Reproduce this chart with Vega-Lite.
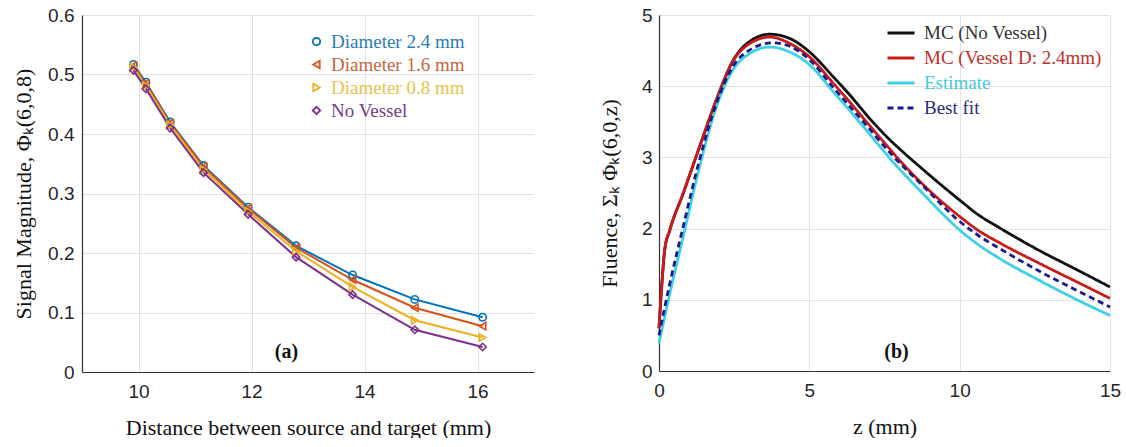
{
  "$schema": "https://vega.github.io/schema/vega-lite/v6.json",
  "padding": {"left": 12, "top": 6, "right": 0, "bottom": 0},
  "spacing": 64,
  "config": {
    "view": {"stroke": null},
    "axis": {
      "labelFont": "Liberation Sans", "labelFontSize": 19, "labelColor": "#262626", "labelFlush": false,
      "titleFont": "Liberation Serif", "titleFontSize": 22, "titleFontWeight": "normal", "titleColor": "#111111",
      "gridColor": "#e2e2e2", "gridWidth": 1, "domainColor": "#333333", "domainWidth": 1.2, "ticks": false
    },
    "legend": {"labelFont": "Liberation Serif", "labelFontSize": 19, "padding": 0, "rowPadding": 3, "labelLimit": 400}
  },
  "datasets": {
    "left": [
      {"series": "Diameter 2.4 mm", "x": 9.91, "y": 0.517},
      {"series": "Diameter 2.4 mm", "x": 10.13, "y": 0.487},
      {"series": "Diameter 2.4 mm", "x": 10.56, "y": 0.42},
      {"series": "Diameter 2.4 mm", "x": 11.15, "y": 0.347},
      {"series": "Diameter 2.4 mm", "x": 11.94, "y": 0.277},
      {"series": "Diameter 2.4 mm", "x": 12.79, "y": 0.212},
      {"series": "Diameter 2.4 mm", "x": 13.79, "y": 0.163},
      {"series": "Diameter 2.4 mm", "x": 14.89, "y": 0.122},
      {"series": "Diameter 2.4 mm", "x": 16.09, "y": 0.092},
      {"series": "Diameter 1.6 mm", "x": 9.91, "y": 0.515},
      {"series": "Diameter 1.6 mm", "x": 10.13, "y": 0.485},
      {"series": "Diameter 1.6 mm", "x": 10.56, "y": 0.418},
      {"series": "Diameter 1.6 mm", "x": 11.15, "y": 0.345},
      {"series": "Diameter 1.6 mm", "x": 11.94, "y": 0.275},
      {"series": "Diameter 1.6 mm", "x": 12.79, "y": 0.209},
      {"series": "Diameter 1.6 mm", "x": 13.79, "y": 0.155},
      {"series": "Diameter 1.6 mm", "x": 14.89, "y": 0.108},
      {"series": "Diameter 1.6 mm", "x": 16.09, "y": 0.077},
      {"series": "Diameter 0.8 mm", "x": 9.91, "y": 0.512},
      {"series": "Diameter 0.8 mm", "x": 10.13, "y": 0.481},
      {"series": "Diameter 0.8 mm", "x": 10.56, "y": 0.415},
      {"series": "Diameter 0.8 mm", "x": 11.15, "y": 0.34},
      {"series": "Diameter 0.8 mm", "x": 11.94, "y": 0.27},
      {"series": "Diameter 0.8 mm", "x": 12.79, "y": 0.203},
      {"series": "Diameter 0.8 mm", "x": 13.79, "y": 0.143},
      {"series": "Diameter 0.8 mm", "x": 14.89, "y": 0.087},
      {"series": "Diameter 0.8 mm", "x": 16.09, "y": 0.058},
      {"series": "No Vessel", "x": 9.91, "y": 0.507},
      {"series": "No Vessel", "x": 10.13, "y": 0.476},
      {"series": "No Vessel", "x": 10.56, "y": 0.41},
      {"series": "No Vessel", "x": 11.15, "y": 0.335},
      {"series": "No Vessel", "x": 11.94, "y": 0.265},
      {"series": "No Vessel", "x": 12.79, "y": 0.193},
      {"series": "No Vessel", "x": 13.79, "y": 0.13},
      {"series": "No Vessel", "x": 14.89, "y": 0.071},
      {"series": "No Vessel", "x": 16.09, "y": 0.042}
    ],
    "right": [
      {"series": "MC (No Vessel)", "z": 0, "f": 0.6},
      {"series": "MC (No Vessel)", "z": 0.1, "f": 1.25},
      {"series": "MC (No Vessel)", "z": 0.19, "f": 1.7},
      {"series": "MC (No Vessel)", "z": 0.36, "f": 1.98},
      {"series": "MC (No Vessel)", "z": 0.8, "f": 2.49},
      {"series": "MC (No Vessel)", "z": 1.35, "f": 3.15},
      {"series": "MC (No Vessel)", "z": 1.91, "f": 3.81},
      {"series": "MC (No Vessel)", "z": 2.46, "f": 4.36},
      {"series": "MC (No Vessel)", "z": 3.02, "f": 4.63},
      {"series": "MC (No Vessel)", "z": 3.68, "f": 4.73},
      {"series": "MC (No Vessel)", "z": 4.35, "f": 4.67},
      {"series": "MC (No Vessel)", "z": 5.01, "f": 4.48},
      {"series": "MC (No Vessel)", "z": 5.8, "f": 4.13},
      {"series": "MC (No Vessel)", "z": 6.34, "f": 3.88},
      {"series": "MC (No Vessel)", "z": 7, "f": 3.55},
      {"series": "MC (No Vessel)", "z": 7.67, "f": 3.25},
      {"series": "MC (No Vessel)", "z": 8, "f": 3.12},
      {"series": "MC (No Vessel)", "z": 8.78, "f": 2.83},
      {"series": "MC (No Vessel)", "z": 10, "f": 2.4},
      {"series": "MC (No Vessel)", "z": 10.6, "f": 2.2},
      {"series": "MC (No Vessel)", "z": 11.33, "f": 2.01},
      {"series": "MC (No Vessel)", "z": 12.66, "f": 1.69},
      {"series": "MC (No Vessel)", "z": 14, "f": 1.4},
      {"series": "MC (No Vessel)", "z": 15, "f": 1.18},
      {"series": "MC (Vessel D: 2.4mm)", "z": 0, "f": 0.6},
      {"series": "MC (Vessel D: 2.4mm)", "z": 0.1, "f": 1.25},
      {"series": "MC (Vessel D: 2.4mm)", "z": 0.19, "f": 1.7},
      {"series": "MC (Vessel D: 2.4mm)", "z": 0.36, "f": 1.98},
      {"series": "MC (Vessel D: 2.4mm)", "z": 0.8, "f": 2.49},
      {"series": "MC (Vessel D: 2.4mm)", "z": 1.35, "f": 3.15},
      {"series": "MC (Vessel D: 2.4mm)", "z": 1.91, "f": 3.81},
      {"series": "MC (Vessel D: 2.4mm)", "z": 2.46, "f": 4.35},
      {"series": "MC (Vessel D: 2.4mm)", "z": 3.02, "f": 4.6},
      {"series": "MC (Vessel D: 2.4mm)", "z": 3.68, "f": 4.69},
      {"series": "MC (Vessel D: 2.4mm)", "z": 4.35, "f": 4.6},
      {"series": "MC (Vessel D: 2.4mm)", "z": 5.01, "f": 4.41},
      {"series": "MC (Vessel D: 2.4mm)", "z": 5.8, "f": 4.04},
      {"series": "MC (Vessel D: 2.4mm)", "z": 6.34, "f": 3.78},
      {"series": "MC (Vessel D: 2.4mm)", "z": 7, "f": 3.45},
      {"series": "MC (Vessel D: 2.4mm)", "z": 7.67, "f": 3.12},
      {"series": "MC (Vessel D: 2.4mm)", "z": 8, "f": 2.96},
      {"series": "MC (Vessel D: 2.4mm)", "z": 8.78, "f": 2.62},
      {"series": "MC (Vessel D: 2.4mm)", "z": 10, "f": 2.17},
      {"series": "MC (Vessel D: 2.4mm)", "z": 10.6, "f": 1.98},
      {"series": "MC (Vessel D: 2.4mm)", "z": 11.33, "f": 1.8},
      {"series": "MC (Vessel D: 2.4mm)", "z": 12.66, "f": 1.51},
      {"series": "MC (Vessel D: 2.4mm)", "z": 14, "f": 1.23},
      {"series": "MC (Vessel D: 2.4mm)", "z": 15, "f": 1.02},
      {"series": "Estimate", "z": 0, "f": 0.39},
      {"series": "Estimate", "z": 0.36, "f": 1.09},
      {"series": "Estimate", "z": 0.8, "f": 1.88},
      {"series": "Estimate", "z": 1.35, "f": 2.87},
      {"series": "Estimate", "z": 1.91, "f": 3.71},
      {"series": "Estimate", "z": 2.46, "f": 4.23},
      {"series": "Estimate", "z": 3.02, "f": 4.46},
      {"series": "Estimate", "z": 3.68, "f": 4.55},
      {"series": "Estimate", "z": 4.35, "f": 4.48},
      {"series": "Estimate", "z": 5.01, "f": 4.3},
      {"series": "Estimate", "z": 5.8, "f": 3.92},
      {"series": "Estimate", "z": 6.34, "f": 3.66},
      {"series": "Estimate", "z": 7, "f": 3.33},
      {"series": "Estimate", "z": 7.67, "f": 2.99},
      {"series": "Estimate", "z": 8.78, "f": 2.49},
      {"series": "Estimate", "z": 9.4, "f": 2.22},
      {"series": "Estimate", "z": 10, "f": 1.98},
      {"series": "Estimate", "z": 10.6, "f": 1.78},
      {"series": "Estimate", "z": 11.33, "f": 1.58},
      {"series": "Estimate", "z": 12.66, "f": 1.27},
      {"series": "Estimate", "z": 14, "f": 0.98},
      {"series": "Estimate", "z": 15, "f": 0.78},
      {"series": "Best fit", "z": 0, "f": 0.5},
      {"series": "Best fit", "z": 0.36, "f": 1.23},
      {"series": "Best fit", "z": 0.8, "f": 2.02},
      {"series": "Best fit", "z": 1.35, "f": 2.97},
      {"series": "Best fit", "z": 1.91, "f": 3.76},
      {"series": "Best fit", "z": 2.46, "f": 4.28},
      {"series": "Best fit", "z": 3.02, "f": 4.51},
      {"series": "Best fit", "z": 3.79, "f": 4.61},
      {"series": "Best fit", "z": 4.35, "f": 4.56},
      {"series": "Best fit", "z": 5.01, "f": 4.37},
      {"series": "Best fit", "z": 5.8, "f": 3.98},
      {"series": "Best fit", "z": 6.34, "f": 3.72},
      {"series": "Best fit", "z": 7, "f": 3.4},
      {"series": "Best fit", "z": 7.67, "f": 3.07},
      {"series": "Best fit", "z": 8.78, "f": 2.6},
      {"series": "Best fit", "z": 10, "f": 2.1},
      {"series": "Best fit", "z": 10.6, "f": 1.91},
      {"series": "Best fit", "z": 11.33, "f": 1.72},
      {"series": "Best fit", "z": 12.66, "f": 1.4},
      {"series": "Best fit", "z": 14, "f": 1.11},
      {"series": "Best fit", "z": 15, "f": 0.9}
    ],
    "annA": [{"x": 12.62, "y": 0.034, "label": "(a)"}],
    "annB": [{"x": 7.9, "y": 0.27, "label": "(b)"}]
  },
  "hconcat": [
    {
      "width": 452,
      "height": 357,
      "data": {"name": "left"},
      "encoding": {
        "x": {"field": "x", "type": "quantitative", "scale": {"domain": [9, 17], "nice": false},
              "axis": {"values": [10, 12, 14, 16], "format": "d", "title": "Distance between source and target (mm)", "labelPadding": 10, "titlePadding": 16}},
        "y": {"field": "y", "type": "quantitative", "scale": {"domain": [0, 0.6], "nice": false},
              "axis": {"values": [0, 0.1, 0.2, 0.3, 0.4, 0.5, 0.6], "format": ".1~f", "title": "Signal Magnitude, Φₖ(6,0,8)", "labelPadding": 8, "titlePadding": 12}},
        "color": {"field": "series", "type": "nominal",
                  "scale": {"domain": ["Diameter 2.4 mm", "Diameter 1.6 mm", "Diameter 0.8 mm", "No Vessel"], "range": ["#0072BD", "#D95319", "#EDB120", "#7E2F8E"]},
                  "legend": {"title": null, "orient": "none", "legendX": 225, "legendY": 17, "symbolSize": 55, "symbolStrokeWidth": 1.8, "symbolFillColor": "transparent", "labelOffset": 5, "labelFont": "Liberation Serif", "labelFontSize": 19, "rowPadding": 3,
                             "encode": {
                               "symbols": {"update": {"shape": {"signal": "datum.value === 'Diameter 2.4 mm' ? 'circle' : datum.value === 'Diameter 1.6 mm' ? 'triangle-left' : datum.value === 'Diameter 0.8 mm' ? 'triangle-right' : 'diamond'"}, "fill": {"value": "transparent"}}},
                               "labels": {"update": {"font": {"value": "Liberation Serif"}, "fill": {"signal": "datum.value === 'Diameter 2.4 mm' ? '#2a7db8' : datum.value === 'Diameter 1.6 mm' ? '#c8653c' : datum.value === 'Diameter 0.8 mm' ? '#e8c34a' : '#6e3f8a'"}}}}}}
      },
      "layer": [
        {"mark": {"type": "line", "strokeWidth": 2}},
        {"transform": [{"filter": "datum.series === 'Diameter 2.4 mm'"}], "mark": {"type": "point", "shape": "circle", "filled": false, "strokeWidth": 1.6, "size": 55, "opacity": 1}},
        {"transform": [{"filter": "datum.series === 'Diameter 1.6 mm'"}], "mark": {"type": "point", "shape": "triangle-left", "filled": false, "strokeWidth": 1.6, "size": 55, "opacity": 1}},
        {"transform": [{"filter": "datum.series === 'Diameter 0.8 mm'"}], "mark": {"type": "point", "shape": "triangle-right", "filled": false, "strokeWidth": 1.6, "size": 55, "opacity": 1}},
        {"transform": [{"filter": "datum.series === 'No Vessel'"}], "mark": {"type": "point", "shape": "diamond", "filled": false, "strokeWidth": 1.6, "size": 55, "opacity": 1}},
        {
          "data": {"name": "annA"},
          "mark": {"type": "text", "font": "Liberation Serif", "fontSize": 20, "fontWeight": "bold", "color": "#111111"},
          "encoding": {
            "x": {"field": "x", "type": "quantitative"},
            "y": {"field": "y", "type": "quantitative"},
            "text": {"field": "label"},
            "color": {"value": "#111111"}
          }
        }
      ]
    },
    {
      "width": 451,
      "height": 356,
      "layer": [
        {
          "data": {"name": "right"},
          "mark": {"type": "line", "strokeWidth": 2.8, "interpolate": "monotone"},
          "encoding": {
            "x": {"field": "z", "type": "quantitative", "scale": {"domain": [0, 15], "nice": false},
                  "axis": {"values": [0, 5, 10, 15], "format": "d", "title": "z (mm)", "labelPadding": 10, "titlePadding": 16}},
            "y": {"field": "f", "type": "quantitative", "scale": {"domain": [0, 5], "nice": false},
                  "axis": {"values": [0, 1, 2, 3, 4, 5], "format": "d", "title": "Fluence, Σₖ Φₖ(6,0,z)", "labelPadding": 7, "titlePadding": 20}},
            "color": {"field": "series", "type": "nominal",
                      "scale": {"domain": ["MC (No Vessel)", "MC (Vessel D: 2.4mm)", "Estimate", "Best fit"], "range": ["#111111", "#cc1a1a", "#3dd0e6", "#1a1a8e"]},
                      "legend": {"title": null, "orient": "none", "legendX": 227, "legendY": 3, "symbolType": "stroke", "symbolSize": 729, "symbolStrokeWidth": 3, "labelOffset": 8, "rowPadding": -8,
                                 "encode": {"labels": {"update": {"fill": {"signal": "datum.value === 'MC (No Vessel)' ? '#333333' : datum.value === 'MC (Vessel D: 2.4mm)' ? '#c0302a' : datum.value === 'Estimate' ? '#48c8dc' : '#2a2a7a'"}}}}}},
            "strokeDash": {"field": "series", "type": "nominal",
                      "scale": {"domain": ["MC (No Vessel)", "MC (Vessel D: 2.4mm)", "Estimate", "Best fit"], "range": [[1, 0], [1, 0], [1, 0], [6, 4]]},
                      "legend": {"title": null, "orient": "none", "legendX": 227, "legendY": 3, "symbolType": "stroke", "symbolSize": 729, "symbolStrokeWidth": 3, "labelOffset": 8, "rowPadding": -8,
                                 "encode": {"labels": {"update": {"fill": {"signal": "datum.value === 'MC (No Vessel)' ? '#333333' : datum.value === 'MC (Vessel D: 2.4mm)' ? '#c0302a' : datum.value === 'Estimate' ? '#48c8dc' : '#2a2a7a'"}}}}}}
          }
        },
        {
          "data": {"name": "annB"},
          "mark": {"type": "text", "font": "Liberation Serif", "fontSize": 20, "fontWeight": "bold", "color": "#111111"},
          "encoding": {
            "x": {"field": "x", "type": "quantitative"},
            "y": {"field": "y", "type": "quantitative"},
            "text": {"field": "label"}
          }
        }
      ]
    }
  ],
  "resolve": {"scale": {"color": "independent", "strokeDash": "independent"}, "legend": {"color": "independent", "strokeDash": "independent"}}
}
